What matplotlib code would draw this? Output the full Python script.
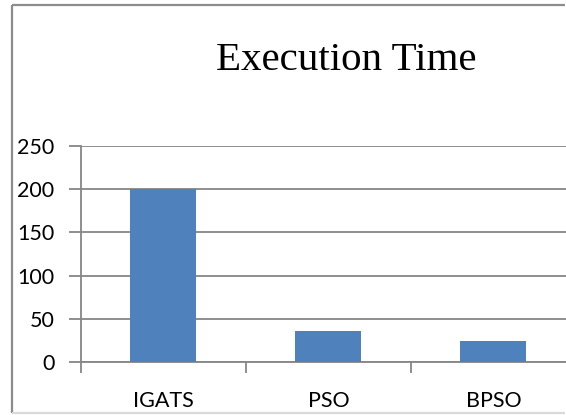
import matplotlib.pyplot as plt
from matplotlib.lines import Line2D

# values
methods = ['IGATS', 'PSO', 'BPSO']
exec_time = [200, 36, 24]
y_ticks = [0, 50, 100, 150, 200, 250]

grid_col = '#868686'
bar_col = '#4F81BD'

fig = plt.figure(figsize=(5.66, 4.15), dpi=100)

# outer chart border: top, left, bottom (right side is cut off in the picture)
bx0, by0, by1 = 11.5 / 566, 1 - 413 / 415, 1 - 5.5 / 415
for xs, ys, c in [([bx0, 0.999], [by1, by1], '#8c8c8c'),
                  ([bx0, bx0], [by0, by1], '#8c8c8c'),
                  ([bx0, 0.999], [by0, by0], '#d9d9d9')]:
    fig.add_artist(Line2D(xs, ys, transform=fig.transFigure, color=c, linewidth=1.6,
                          solid_capstyle='butt'))

ax = fig.add_axes([80.7 / 566, 53 / 415, 495.3 / 566, 216 / 415])
x = range(len(methods))
ax.bar(x, exec_time, width=0.4, color=bar_col, zorder=3)

ax.set_xlim(-0.5, len(methods) - 0.5)
ax.set_ylim(0, 250)
ax.set_yticks(y_ticks)
ax.yaxis.grid(True, color=grid_col, linewidth=1.3)
ax.set_axisbelow(True)

ax.set_xticks(list(x))
ax.set_xticklabels(methods)
ax.set_xticks([-0.5, 0.5, 1.5, 2.5], minor=True)
ax.tick_params(axis='x', which='major', length=0, pad=21)
ax.tick_params(axis='x', which='minor', length=8, width=1.3, color=grid_col, direction='out')
ax.tick_params(axis='y', length=9, width=1.3, color=grid_col, direction='out', pad=10)
for lab in ax.get_xticklabels() + ax.get_yticklabels():
    lab.set_fontfamily('Lato')
    lab.set_fontsize(15.5)

for s in ['top', 'right']:
    ax.spines[s].set_visible(False)
for s in ['left', 'bottom']:
    ax.spines[s].set_color(grid_col)
    ax.spines[s].set_linewidth(1.3)

fig.text(346 / 566, 1 - 60 / 415, 'Execution Time', ha='center', va='center',
         fontfamily='Liberation Serif', fontsize=29.5)

fig.savefig('out.png', dpi=100)
